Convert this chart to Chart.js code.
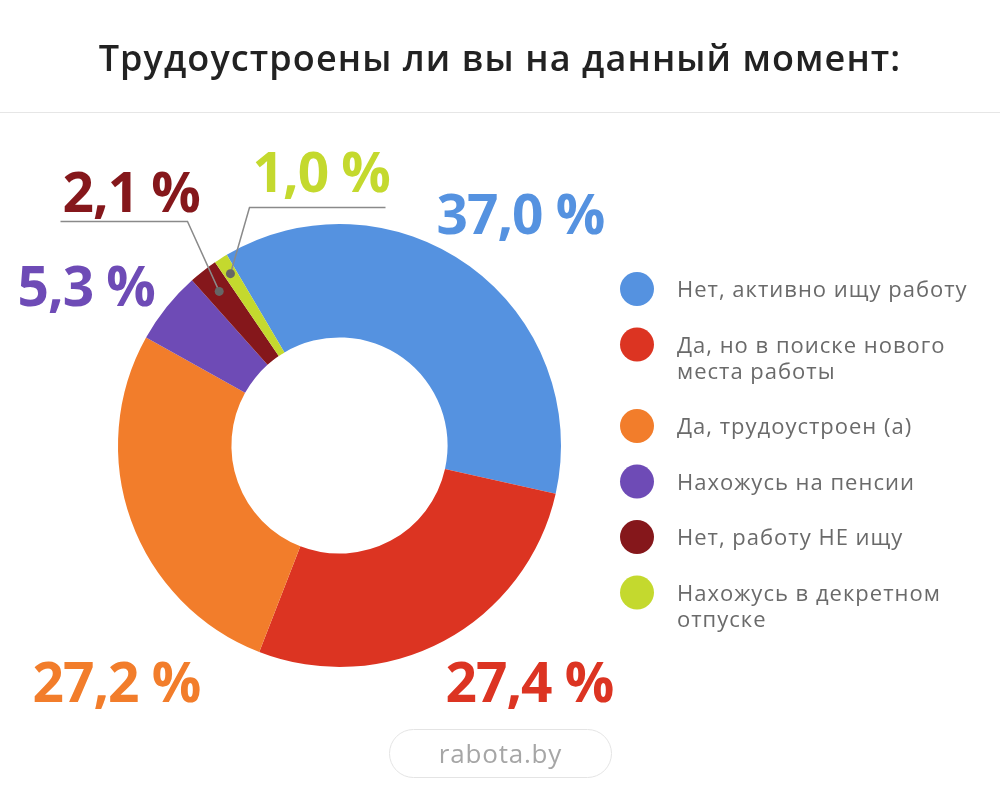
<!DOCTYPE html>
<html lang="ru">
<head>
<meta charset="utf-8">
<title>Трудоустроены ли вы на данный момент</title>
<script src="https://cdn.jsdelivr.net/npm/chart.js@4.4.1/dist/chart.umd.min.js"></script>
<style>
  html,body{margin:0;padding:0;background:#fff;}
  #wrap{position:relative;width:1000px;height:798px;overflow:hidden;font-family:"Open Sans",sans-serif;}
  #title{position:absolute;left:0;top:33px;width:1000px;text-align:center;font-size:36px;font-weight:600;color:#222;letter-spacing:1.1px;}
  #sep{position:absolute;left:0;top:112px;width:1000px;height:1px;background:#e6e6e6;}
  #chart{position:absolute;left:0;top:0;}
  #brand{position:absolute;left:389px;top:729px;width:221px;height:47px;border:1px solid #e4e4e4;border-radius:25px;
    text-align:center;line-height:47px;font-size:26px;color:#a6a6a6;letter-spacing:0.8px;}
</style>
</head>
<body>
<div id="wrap">
  <canvas id="chart" width="1000" height="798"></canvas>
  <div id="title">Трудоустроены ли вы на данный момент:</div>
  <div id="sep"></div>
  <div id="brand">rabota.by</div>
</div>
<script>
// ---- data ----
const categories = [
  'Нет, активно ищу работу',
  ['Да, но в поиске нового', 'места работы'],
  'Да, трудоустроен (а)',
  'Нахожусь на пенсии',
  'Нет, работу НЕ ищу',
  ['Нахожусь в декретном', 'отпуске']
];
const shares = [37.0, 27.4, 27.2, 5.3, 2.1, 1.0];
const sliceColors = ['#5592E0', '#DC3422', '#F27D2B', '#6E4BB6', '#85171B', '#C4D92E'];

// label placement relative to the doughnut centre (px); baseline-left of the text
const labelPos = [
  {dx: 97, dy: -212},
  {dx: 106, dy: 256},
  {dx: -307, dy: 256},
  {dx: -322, dy: -140},
  {dx: -277, dy: -234},
  {dx: -87, dy: -254}
];
// leader lines for the thin slices: dot inset, elbow point, end of the horizontal run
const leaders = {
  4: {inset: 26, ex: -152, ey: -224, endX: -279},
  5: {inset: 18, ex: -90, ey: -238, endX: 46}
};

function fmt(v){ return v.toFixed(1).replace('.', ',') + ' %'; }

const pctLabels = {
  id: 'pctLabels',
  afterDatasetsDraw(chart){
    const ctx = chart.ctx;
    const arcs = chart.getDatasetMeta(0).data;
    ctx.save();
    arcs.forEach((arc, i) => {
      const {x, y, startAngle, endAngle, outerRadius} = arc.getProps(['x','y','startAngle','endAngle','outerRadius'], true);
      const L = leaders[i];
      if (L){
        const mid = (startAngle + endAngle) / 2;
        const r = outerRadius - L.inset;
        const px = x + Math.cos(mid) * r, py = y + Math.sin(mid) * r;
        ctx.strokeStyle = '#8a8a8a';
        ctx.lineWidth = 1.5;
        ctx.beginPath();
        ctx.moveTo(px, py);
        ctx.lineTo(x + L.ex, y + L.ey);
        ctx.lineTo(x + L.endX, y + L.ey);
        ctx.stroke();
        ctx.fillStyle = '#666';
        ctx.beginPath();
        ctx.arc(px, py, 4.5, 0, Math.PI * 2);
        ctx.fill();
      }
      const p = labelPos[i];
      ctx.fillStyle = sliceColors[i];
      ctx.font = '700 55px "Open Sans"';
      ctx.letterSpacing = '-1px';
      ctx.textAlign = 'left';
      ctx.textBaseline = 'alphabetic';
      ctx.fillText(fmt(shares[i]), x + p.dx, y + p.dy);
    });
    ctx.restore();
  }
};

const sideLegend = {
  id: 'sideLegend',
  afterDraw(chart){
    const ctx = chart.ctx;
    ctx.save();
    let y = 289;
    categories.forEach((lab, i) => {
      const lines = Array.isArray(lab) ? lab : [lab];
      ctx.fillStyle = sliceColors[i];
      ctx.beginPath();
      ctx.arc(637, y, 17, 0, Math.PI * 2);
      ctx.fill();
      ctx.fillStyle = '#6a6a6a';
      ctx.font = '400 22px "Open Sans"';
      ctx.letterSpacing = '1px';
      ctx.textAlign = 'left';
      ctx.textBaseline = 'alphabetic';
      lines.forEach((t, k) => ctx.fillText(t, 677, y + 8 + k * 26));
      y += 55.5 + 26 * (lines.length - 1);
    });
    ctx.restore();
  }
};

new Chart(document.getElementById('chart'), {
  type: 'doughnut',
  data: {
    labels: categories,
    datasets: [{
      data: shares,
      backgroundColor: sliceColors,
      borderWidth: 0
    }]
  },
  options: {
    responsive: false,
    animation: false,
    rotation: -30.6,
    cutout: '48.8%',
    layout: {padding: {left: 118, right: 439, top: 224, bottom: 131}},
    plugins: {legend: {display: false}, tooltip: {enabled: false}}
  },
  plugins: [pctLabels, sideLegend]
});
</script>
</body>
</html>
